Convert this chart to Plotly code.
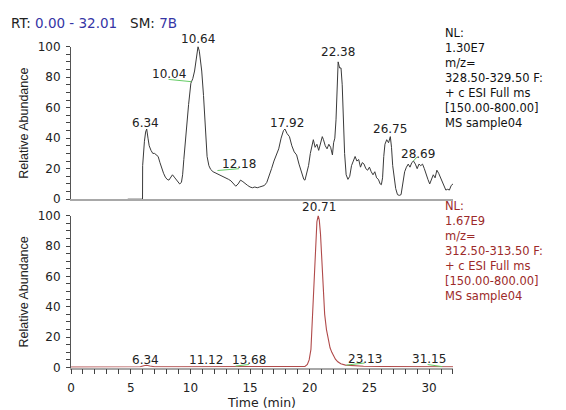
import plotly.graph_objects as go

# ---------------- data ----------------
top_time = [4.75, 5.99, 6.0, 6.05, 6.15, 6.25, 6.34, 6.45, 6.55, 6.7, 6.85, 7.0, 7.15, 7.3, 7.45, 7.6, 7.75, 7.9,
            8.05, 8.2, 8.35, 8.5, 8.65, 8.8, 8.95, 9.1, 9.25, 9.35, 9.45, 9.55, 9.7, 9.85, 10.04, 10.2, 10.35, 10.5,
            10.64, 10.75, 10.85, 10.95, 11.1, 11.25, 11.4, 11.55, 11.7, 11.9, 12.18, 12.4, 12.6, 12.8, 13.0, 13.2,
            13.4, 13.6, 13.8, 14.0, 14.2, 14.4, 14.6, 14.8, 15.0, 15.2, 15.4, 15.6, 15.8, 16.0, 16.2, 16.4, 16.6,
            16.8, 17.0, 17.2, 17.4, 17.6, 17.8, 17.92, 18.1, 18.3, 18.5, 18.7, 18.9, 19.1, 19.3, 19.5, 19.6, 19.75,
            19.9, 20.05, 20.2, 20.3, 20.45, 20.6, 20.75, 20.9, 21.05, 21.15, 21.3, 21.45, 21.6, 21.75, 21.9, 22.0,
            22.1, 22.2, 22.3, 22.38, 22.5, 22.62, 22.72, 22.82, 22.92, 23.05, 23.2, 23.35, 23.5, 23.65, 23.8, 23.95,
            24.1, 24.25, 24.4, 24.55, 24.7, 24.85, 25.0, 25.15, 25.3, 25.45, 25.6, 25.75, 25.9, 26.0, 26.1, 26.2,
            26.3, 26.45, 26.6, 26.75, 26.85, 26.95, 27.05, 27.2, 27.35, 27.5, 27.65, 27.75, 27.85, 27.95, 28.1,
            28.25, 28.4, 28.55, 28.69, 28.85, 29.0, 29.15, 29.3, 29.45, 29.6, 29.75, 29.9, 30.05, 30.2, 30.35, 30.5,
            30.65, 30.8, 30.95, 31.1, 31.25, 31.4, 31.55, 31.7, 31.85, 32.0]
top_abund = [0, 0, 22, 31, 38, 44, 46, 40, 35, 32, 30, 30, 29, 28, 24, 20, 17, 14.5,
             13, 12.5, 14, 16, 14.5, 13, 11, 10, 11, 16, 26, 36, 50, 62, 76, 79, 84, 93,
             100, 97, 92, 84, 68, 48, 28, 22, 19.5, 18, 17, 16, 15.5, 14.5, 14, 13,
             12, 10, 8.5, 10, 12.5, 11.5, 10, 9, 8, 7.5, 8, 7.5, 8, 8.5, 9, 11, 15,
             20, 25, 29, 33, 40, 45, 46, 43, 41, 35, 31, 29, 23, 18, 13, 12.5, 17,
             22, 30, 37, 39, 34, 36, 32, 37, 41, 39, 35, 33, 36, 34, 29, 37,
             40, 52, 82, 90, 86, 86, 75, 52, 30, 16, 13, 15, 22, 25, 28, 25,
             26, 21, 24, 23, 20, 19, 21, 18, 16, 18, 14, 13, 10, 9.5, 14, 28,
             36, 39, 37, 41, 34, 22, 14, 7, 3, 2.5, 3, 9, 15, 18, 21,
             23, 21, 24, 25, 23, 20, 23, 22, 23, 20, 16, 13, 10, 13, 16, 14,
             19, 17, 14, 12, 9, 6, 6.5, 6, 9, 10]

bot_time = [0, 2, 4, 5.8, 6.1, 6.34, 6.6, 7, 9, 11.12, 12, 13.68, 15, 17, 18.5, 19.3, 19.6, 19.8, 19.95,
            20.1, 20.2, 20.3, 20.4, 20.5, 20.6, 20.71, 20.8, 20.9, 21.0, 21.13, 21.25, 21.4, 21.55, 21.7,
            21.85, 22.0, 22.15, 22.35, 22.6, 23.0, 23.13, 23.6, 24.5, 26, 28, 30, 31.15, 32.0]
bot_abund = [0.3, 0.3, 0.4, 0.5, 1.2, 1.5, 1.0, 0.5, 0.5, 0.6, 0.5, 0.7, 0.5, 0.5, 0.5, 0.5, 0.8, 2, 5,
             12, 28, 50, 70, 86, 96, 100, 97, 88, 74, 47, 35, 25, 18, 13,
             10, 7.5, 5.5, 3.8, 2.5, 1.6, 1.5, 1.2, 0.9, 0.7, 0.6, 0.6, 0.6, 0.5]

# green label connectors (time, abundance)
top_conn_t = [[8.17, 10.1], [12.27, 14.08], [28.68, 29.0]]
top_conn_v = [[78.5, 77], [18.8, 20], [25, 27.7]]
bot_conn_t = [[13.79, 14.9], [23.06, 24.6], [29.88, 31.1]]
bot_conn_v = [[1, 2], [1.6, 3], [2, 0.6]]

# peak labels: text, label x (min), label y (abundance, centre)
top_labels = ["6.34", "10.04", "10.64", "12.18", "17.92", "22.38", "26.75", "28.69"]
top_label_x = [6.28, 8.2, 10.6, 14.08, 18.1, 22.4, 26.75, 29.07]
top_label_y = [50, 82.3, 100, 23.4, 50, 96.2, 46.2, 29.7]
top_label_shift = [0, 0, 8, 0, 0, 0, 0, 0]
bot_labels = ["20.71", "6.34", "11.12", "13.68", "23.13", "31.15"]
bot_label_x = [20.75, 6.28, 11.27, 14.93, 24.67, 29.95]
bot_label_y = [100, 5.3, 5.3, 5.3, 5.9, 5.9]
bot_label_shift = [9, 0, 0, 0, 0, 0]

top_info = ["NL:", "1.30E7", "m/z=", "328.50-329.50 F:", "+ c ESI Full ms", "[150.00-800.00]", "MS sample04"]
bot_info = ["NL:", "1.67E9", "m/z=", "312.50-313.50 F:", "+ c ESI Full ms", "[150.00-800.00]", "MS sample04"]

x_ticks = [0, 5, 10, 15, 20, 25, 30]
y_ticks = [0, 20, 40, 60, 80, 100]

# ---------------- layout helpers ----------------
W, H = 566, 410
def px(x):
    return x / W
def py(y):
    return 1 - y / H

XL, XR = 67.5, 452.3
TOP_T, TOP_B = 41, 199
BOT_T, BOT_B = 216, 373.3

TXT = "DejaVu Sans"
ARIAL = "Liberation Sans, Arial"
BLUE = "#3535a5"
RED = "#9c2a2a"
GREEN = "#66cc66"

fig = go.Figure()

fig.add_trace(go.Scatter(x=top_time, y=top_abund, mode="lines", line=dict(color="#3a3a3a", width=1),
                         xaxis="x", yaxis="y", cliponaxis=False, showlegend=False))
fig.add_trace(go.Scatter(x=bot_time, y=bot_abund, mode="lines", line=dict(color="#b04a4a", width=1.1),
                         xaxis="x2", yaxis="y2", cliponaxis=False, showlegend=False))
for ts, vs in zip(top_conn_t, top_conn_v):
    fig.add_trace(go.Scatter(x=ts, y=vs, mode="lines", line=dict(color=GREEN, width=1),
                             xaxis="x", yaxis="y", showlegend=False))
for ts, vs in zip(bot_conn_t, bot_conn_v):
    fig.add_trace(go.Scatter(x=ts, y=vs, mode="lines", line=dict(color=GREEN, width=1),
                             xaxis="x2", yaxis="y2", showlegend=False))

ann = []
for t, x, y, s in zip(top_labels, top_label_x, top_label_y, top_label_shift):
    ann.append(dict(text=t, x=x, y=y, xref="x", yref="y", showarrow=False, yshift=s,
                    font=dict(family=TXT, size=12, color="#222"), xanchor="center", yanchor="middle"))
for t, x, y, s in zip(bot_labels, bot_label_x, bot_label_y, bot_label_shift):
    ann.append(dict(text=t, x=x, y=y, xref="x2", yref="y2", showarrow=False, yshift=s,
                    font=dict(family=TXT, size=12, color="#222"), xanchor="center", yanchor="middle"))

ann.append(dict(text="<br>".join(top_info), x=px(442), y=py(73.4), xref="paper", yref="paper",
                showarrow=False, align="left",
                font=dict(family=TXT, size=11.5, color="#111"), xanchor="left", yanchor="middle"))
ann.append(dict(text="<br>".join(bot_info), x=px(442), y=py(252.5), xref="paper", yref="paper",
                showarrow=False, align="left",
                font=dict(family=TXT, size=11.5, color=RED), xanchor="left", yanchor="middle"))

ann.append(dict(text="RT: <span style='color:%s'>0.00 - 32.01</span>&nbsp;&nbsp;&nbsp;SM: <span style='color:%s'>7B</span>" % (BLUE, BLUE),
                x=px(5), y=py(17), xref="paper", yref="paper", showarrow=False,
                font=dict(family=TXT, size=13.5, color="#222"), xanchor="left", yanchor="middle"))
for yc in [(TOP_T + TOP_B) / 2, (BOT_T + BOT_B) / 2]:
    ann.append(dict(text="Relative Abundance", x=px(20), y=py(yc), xref="paper", yref="paper",
                    showarrow=False, textangle=-90, font=dict(family=ARIAL, size=12.5, color="#222"),
                    xanchor="center", yanchor="middle"))

yaxis_common = dict(range=[0, 100], tickvals=y_ticks, ticks="outside", ticklen=4, tickcolor="#444",
                    showline=True, linecolor="#555", linewidth=1, showgrid=False, zeroline=False,
                    ticklabelstandoff=3,
                    tickfont=dict(family=TXT, size=12, color="#222"),
                    minor=dict(dtick=5, ticks="outside", ticklen=4, tickcolor="#444", showgrid=False))

fig.update_layout(
    width=W, height=H, margin=dict(l=0, r=0, t=0, b=0),
    paper_bgcolor="white", plot_bgcolor="white",
    xaxis=dict(domain=[px(XL), px(XR)], range=[0, 32.01], showticklabels=False, ticks="",
               showline=True, linecolor="#a8a8a8", linewidth=1.5, showgrid=False, zeroline=False,
               anchor="y"),
    yaxis=dict(domain=[py(TOP_B), py(TOP_T)], anchor="x", **yaxis_common),
    xaxis2=dict(domain=[px(XL), px(XR)], range=[0, 32.01], tickvals=x_ticks, ticks="outside", ticklen=5,
                tickcolor="#444", showline=True, linecolor="#a8a8a8", linewidth=1.5, showgrid=False,
                zeroline=False, anchor="y2", ticklabelstandoff=3,
                tickfont=dict(family=TXT, size=12, color="#222"),
                title=dict(text="Time (min)", standoff=6, font=dict(family=TXT, size=12.5, color="#222")),
                minor=dict(dtick=1, ticks="outside", ticklen=5, tickcolor="#444", showgrid=False)),
    yaxis2=dict(domain=[py(BOT_B), py(BOT_T)], anchor="x2", **yaxis_common),
    annotations=ann,
)

fig.write_html("out.html")
